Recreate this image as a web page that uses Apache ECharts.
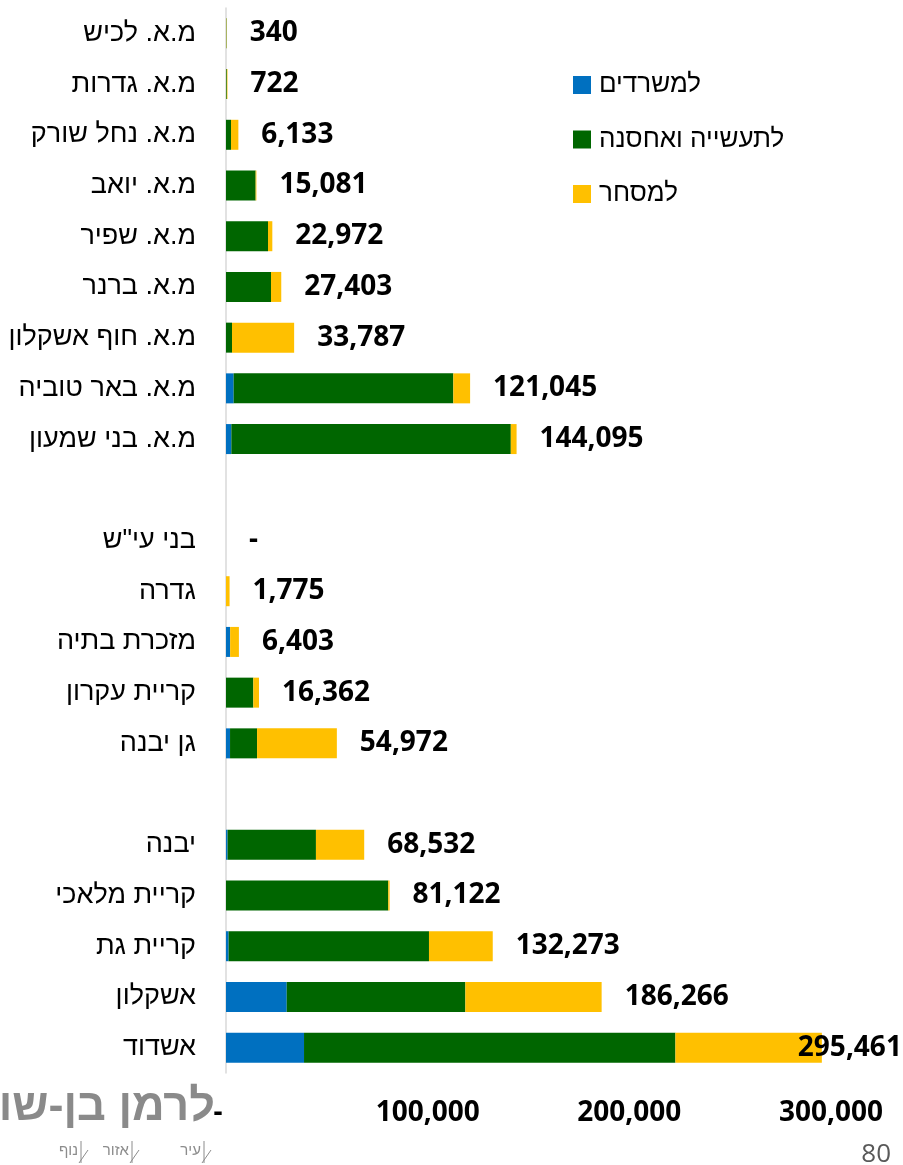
<!DOCTYPE html>
<html lang="he">
<head>
<meta charset="utf-8">
<title>שטחי תעסוקה לפי רשות</title>
<script src="https://cdn.jsdelivr.net/npm/echarts@6/dist/echarts.min.js"></script>
<style>
  html, body { margin: 0; padding: 0; background: #ffffff; }
  #chart { width: 903px; height: 1165px; }
</style>
</head>
<body>
<div id="chart"></div>
<script>
// Authorities, top to bottom (blank entries separate the groups)
const categories = [
  'מ.א. לכיש', 'מ.א. גדרות', 'מ.א. נחל שורק', 'מ.א. יואב', 'מ.א. שפיר',
  'מ.א. ברנר', 'מ.א. חוף אשקלון', 'מ.א. באר טוביה', 'מ.א. בני שמעון',
  ' ',
  'בני עי"ש', 'גדרה', 'מזכרת בתיה', 'קריית עקרון', 'גן יבנה',
  '  ',
  'יבנה', 'קריית מלאכי', 'קריית גת', 'אשקלון', 'אשדוד'
];

const seriesNames = ['למשרדים', 'לתעשייה ואחסנה', 'למסחר'];

// Offices
const offices = [0, 0, 0, 0, 0, 0, 0, 3800, 2650, null,
  0, 0, 2050, 0, 2000, null, 800, 0, 1300, 30107, 38690];
// Industry and storage
const industry = [200, 400, 2480, 14700, 20830, 22320, 2976, 108920, 138580, null,
  0, 0, 0, 13550, 13400, null, 43800, 80450, 99350, 88586, 184165];
// Commerce
const commerce = [140, 322, 3653, 381, 2142, 5083, 30811, 8325, 2865, null,
  0, 1775, 4353, 2812, 39572, null, 23932, 672, 31623, 67573, 72606];
// Totals shown next to each bar
const totals = [340, 722, 6133, 15081, 22972, 27403, 33787, 121045, 144095, null,
  0, 1775, 6403, 16362, 54972, null, 68532, 81122, 132273, 186266, 295461];

const xTicks = [0, 100000, 200000, 300000];

const colors = ['#0070C0', '#006600', '#FFC000'];
const hebFont = '"Liberation Sans", "DejaVu Sans", sans-serif';
const numFont = '"Open Sans", "Liberation Sans", sans-serif';
const numSize = 28;

const fmt = v => v === 0 ? '-' : v.toLocaleString('en-US');

const chart = echarts.init(document.getElementById('chart'), null, { renderer: 'canvas' });

const barSeries = [offices, industry, commerce].map((arr, k) => ({
  name: seriesNames[k],
  type: 'bar',
  stack: 'total',
  barWidth: 30,
  itemStyle: { color: colors[k] },
  data: arr
}));

// zero-length segment at the end of each stack that carries the total label
const totalLabels = {
  name: 'totals',
  type: 'bar',
  stack: 'total',
  barWidth: 30,
  silent: true,
  itemStyle: { color: 'transparent' },
  label: {
    show: true,
    position: 'right',
    distance: 23,
    fontFamily: numFont,
    fontWeight: 'bold',
    fontSize: numSize,
    color: '#000000',
    formatter: p => fmt(totals[p.dataIndex])
  },
  data: totals.map((t, i) => {
    if (t === null) return null;
    if (i === totals.length - 1) return { value: 0, label: { offset: [-47, 0] } };
    return 0;
  })
};

const smallText = (text, x) => ({
  type: 'text', x: x, y: 1151,
  style: { text: text, align: 'right', verticalAlign: 'middle', font: '15px ' + hebFont, fill: '#8c8c8c' }
});
const tickMark = x => ([
  { type: 'line', shape: { x1: x, y1: 1141, x2: x, y2: 1163 }, style: { stroke: '#8c8c8c', lineWidth: 1 } },
  { type: 'line', shape: { x1: x - 2, y1: 1163, x2: x + 7, y2: 1150 }, style: { stroke: '#8c8c8c', lineWidth: 1 } }
]);

const option = {
  animation: false,
  backgroundColor: '#ffffff',
  grid: { left: 226, right: 72, top: 8, bottom: 92, containLabel: false },
  legend: {
    data: seriesNames,
    orient: 'vertical',
    left: 573,
    top: 72,
    padding: 0,
    align: 'left',
    itemWidth: 18,
    itemHeight: 18,
    itemGap: 28.5,
    icon: 'rect',
    textStyle: {
      fontFamily: hebFont,
      fontSize: 26,
      color: '#000000',
      padding: [0, 0, 0, 3]
    }
  },
  xAxis: {
    type: 'value',
    min: 0,
    max: 300000,
    interval: 100000,
    axisLine: { show: false },
    axisTick: { show: false },
    splitLine: { show: false },
    axisLabel: {
      margin: 26,
      fontFamily: numFont,
      fontWeight: 'bold',
      fontSize: numSize,
      color: '#000000',
      customValues: xTicks,
      formatter: v => v === 0 ? '{z|-}' : fmt(v),
      rich: { z: { fontFamily: numFont, fontWeight: 'bold', fontSize: numSize, color: '#000', padding: [0, 16, 0, 0] } }
    }
  },
  yAxis: {
    type: 'category',
    inverse: true,
    data: categories,
    axisLine: { show: true, lineStyle: { color: '#d9d9d9', width: 1.5 } },
    axisTick: { show: false },
    axisLabel: {
      margin: 30,
      fontFamily: hebFont,
      fontSize: 27,
      color: '#000000'
    }
  },
  graphic: [
    {
      type: 'text',
      x: 215, y: 1108,
      style: {
        text: 'לרמן בן-שושן',
        align: 'right',
        verticalAlign: 'middle',
        font: 'bold 45px ' + hebFont,
        fill: '#8a8a8a'
      }
    },
    smallText('עיר', 201),
    smallText('אזור', 129),
    smallText('נוף', 78),
    ...tickMark(204),
    ...tickMark(132),
    ...tickMark(81),
    {
      type: 'text',
      x: 891, y: 1155,
      style: { text: '80', align: 'right', verticalAlign: 'middle', font: '26px ' + numFont, fill: '#595959' }
    }
  ],
  series: [...barSeries, totalLabels]
};

chart.setOption(option);
</script>
</body>
</html>
